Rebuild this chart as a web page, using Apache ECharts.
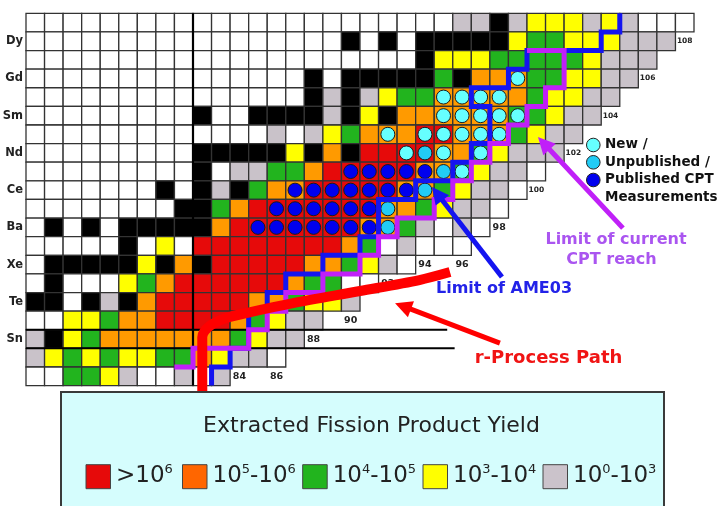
<!DOCTYPE html>
<html><head><meta charset="utf-8">
<script src="https://cdn.jsdelivr.net/npm/echarts/dist/echarts.min.js"></script>
<style>html,body{margin:0;padding:0;background:#fff}#c{width:724px;height:506px}</style>
</head><body><div id="c"></div>
<script>
// ---- data ----
const zTop = 67;      // proton number of the top row
const nFirst = 73;    // neutron number of the first column
// cell codes per row: w none, k stable, r >1e6, o 1e5-1e6, g 1e4-1e5, y 1e3-1e4, s 1e0-1e3
const rowCodes = [
 "wwwwwwwwwwwwwwwwwwwwwwwssksyyysyswww",   // Z=67
 "wwwwwwwwwwwwwwwwwkwkwkkkkkyggyyysss",    // Z=66 Dy
 "wwwwwwwwwwwwwwwwwwwwwkyyygggggysss",     // Z=65
 "wwwwwwwwwwwwwwwkwkkkkkgkoooggyyss",      // Z=64 Gd
 "wwwwwwwwwwwwwwwksksyggooooogyyss",       // Z=63
 "wwwwwwwwwkwwkkkkskykooooooggyss",        // Z=62 Sm
 "wwwwwwwwwwwwwswsygooorrooogyss",         // Z=61
 "wwwwwwwwwkkkkkykokrrrroogysss",          // Z=60 Nd
 "wwwwwwwwwkwssggorrrrroogyssw",           // Z=59
 "wwwwwwwkwkskgoorrrrroogyssw",            // Z=58 Ce
 "wwwwwwwwkkgorrrrrrroogyssw",             // Z=57
 "wkwkwkkkkkorrrrrrroogswsw",              // Z=56 Ba
 "wwwwwkwywrrrrrrrrogwswww",               // Z=55
 "wkkkkkykokrrrrroogysw",                  // Z=54 Xe
 "wkwwwygorrrrrroggww",                    // Z=53
 "kkwkskorrrrroogyys",                     // Z=52 Te
 "wwyygoorrrrogyss",                       // Z=51
 "skygooooooogyss",                        // Z=50 Sn
 "sygygyyggoyssw",                         // Z=49
 "wwggyswwsws"                             // Z=48
];
const elementZ = [66, 64, 62, 60, 58, 56, 54, 52, 50];
const elementNames = ["Dy", "Gd", "Sm", "Nd", "Ce", "Ba", "Xe", "Te", "Sn"];
const neutronLabels = [84, 86, 88, 90, 92, 94, 96, 98, 100, 102, 104, 106, 108];
const neutronLabelZ = [48, 48, 50, 51, 53, 54, 54, 56, 58, 60, 62, 64, 66];
// CPT measurements [N, Z]
const newCPT = [[99,64],[95,63],[96,63],[97,63],[98,63],[95,62],[96,62],[97,62],[98,62],[99,62],
  [92,61],[94,61],[95,61],[96,61],[97,61],[98,61],[93,60],[95,60],[97,60],[96,59]];
const unpubCPT = [[94,60],[95,59],[94,58],[92,57],[92,56]];
const pubCPT = [[90,59],[91,59],[92,59],[93,59],[94,59],
  [87,58],[88,58],[89,58],[90,58],[91,58],[92,58],[93,58],
  [86,57],[87,57],[88,57],[89,57],[90,57],[91,57],
  [85,56],[86,56],[87,56],[88,56],[89,56],[90,56],[91,56]];
// limit lines [N, Z] along cell edges
const ame03Limit = [[104.5,67.5],[104.5,66.5],[103.5,66.5],[103.5,65.5],[99.5,65.5],[99.5,64.5],[98.5,64.5],
  [98.5,63.5],[96.5,63.5],[96.5,62.5],[97.5,62.5],[97.5,60.5],[96.5,60.5],[96.5,59.5],[95.5,59.5],[95.5,58.5],
  [93.5,58.5],[93.5,57.5],[91.5,57.5],[91.5,55.5],[90.5,55.5],[90.5,54.5],[88.5,54.5],[88.5,53.5],[86.5,53.5],
  [86.5,52.5],[85.5,52.5],[85.5,51.5],[84.5,51.5],[84.5,49.5],[83.5,49.5],[83.5,48.5],[82.5,48.5],[82.5,47.5]];
const cptLimit = [[99.5,65.5],[101.5,65.5],[101.5,63.5],[100.5,63.5],[100.5,62.5],[99.5,62.5],[99.5,61.5],
  [98.5,61.5],[98.5,60.5],[97.5,60.5],[97.5,59.5],[96.5,59.5],[96.5,58.5],[95.5,58.5],[95.5,57.5],[94.5,57.5],
  [94.5,56.5],[92.5,56.5],[92.5,55.5],[91.5,55.5],[91.5,54.5],[90.5,54.5],[90.5,53.5],[88.5,53.5],[88.5,52.5],
  [86.5,52.5],[86.5,51.5],[85.5,51.5],[85.5,50.5],[84.5,50.5],[84.5,49.5],[81.5,49.5],[81.5,48.5],[80.5,48.5]];
const rProcessPath = [[82.0,47.2],[82.0,50.1],[82.4,50.7],[83.3,51.13],[84.6,51.45],[86.9,51.93],[90.5,52.58],[93.7,53.17],[95.35,53.6]];
// annotation arrows [N tail, Z tail, N tip, Z tip]
const arrowCPT = [104.67, 55.96, 100.09, 60.85];
const arrowAME = [98.15, 53.33, 94.38, 58.17];
const arrowR = [98.04, 49.78, 92.39, 51.93];
const magicN = 82, magicZ = 50, magicZEnds = [95.2, 95.6];
const legendLabels = ["{a|>10}{s|6}", "{a|10}{s|5}{a|-10}{s|6}", "{a|10}{s|4}{a|-10}{s|5}", "{a|10}{s|3}{a|-10}{s|4}", "{a|10}{s|0}{a|-10}{s|3}"];
const legendTitle = "Extracted Fission Product Yield";
const cptLegend = ["New /", "Unpublished /", "Published CPT", "Measurements"];

// ---- styles ----
const codeKeys = "wkrogys";
const cellColors = ["#ffffff", "#000000", "#e60a0a", "#ff9a00", "#22b41e", "#ffff00", "#c9c2c9"];
const legendColors = ["#e60a0a", "#ff6600", "#22b41e", "#ffff00", "#cbc3cb"];
const legendX = [86, 182.5, 302.7, 423, 543];
const FONT = '"DejaVu Sans", Verdana, sans-serif';

const cellData = [];
rowCodes.forEach((s, r) => {
  for (let c = 0; c < s.length; c++) cellData.push([nFirst + c, zTop - r, codeKeys.indexOf(s[c])]);
});
const elementMap = {};
elementZ.forEach((z, i) => elementMap[z] = elementNames[i]);

function arrowItem(params, api) {
  const p = api.coord([api.value(0), api.value(1)]);
  const q = api.coord([api.value(2), api.value(3)]);
  const col = api.value(4) === 0 ? '#c020f8' : (api.value(4) === 1 ? '#1414f0' : '#ff0000');
  const dx = q[0] - p[0], dy = q[1] - p[1], L = Math.hypot(dx, dy), ux = dx / L, uy = dy / L;
  const hl = 17, hw = 8.5;
  const b = [q[0] - ux * hl, q[1] - uy * hl];
  return {type: 'group', children: [
    {type: 'line', shape: {x1: p[0], y1: p[1], x2: b[0] + ux * 3, y2: b[1] + uy * 3}, style: {stroke: col, lineWidth: 5}},
    {type: 'polygon', shape: {points: [q, [b[0] - uy * hw, b[1] + ux * hw], [b[0] + uy * hw, b[1] - ux * hw]]}, style: {fill: col}}
  ]};
}

const chart = echarts.init(document.getElementById('c'));
const graphics = [
  {type: 'rect', shape: {x: 61, y: 392, width: 603, height: 130}, style: {fill: '#d5fdfd', stroke: '#3a3a3a', lineWidth: 2}, z: 10},
  {type: 'text', x: 371.5, y: 426.5, z: 11, style: {text: legendTitle, font: '22px ' + FONT, fill: '#222',
    align: 'center', verticalAlign: 'middle', textAlign: 'center', textVerticalAlign: 'middle'}}
];
const richLegend = {
  a: {fontSize: 23, fontFamily: FONT, fill: '#222', color: '#222', lineHeight: 26},
  s: {fontSize: 13, fontFamily: FONT, fill: '#222', color: '#222', lineHeight: 13, verticalAlign: 'top'}
};
legendLabels.forEach((t, i) => {
  graphics.push({type: 'rect', shape: {x: legendX[i], y: 464.7, width: 24.5, height: 24}, style: {fill: legendColors[i], stroke: '#444', lineWidth: 1}, z: 11});
  graphics.push({type: 'text', x: legendX[i] + 30, y: 476.5, z: 11, style: {text: t, rich: richLegend, font: '23px ' + FONT, fill: '#222',
    align: 'left', verticalAlign: 'middle', textAlign: 'left', textVerticalAlign: 'middle'}});
});
const cptColors = ['#66ffff', '#22ccf5', '#0000ee'];
const cptY = [145, 162.3, 180];
cptColors.forEach((c, i) => graphics.push({type: 'circle', shape: {cx: 593.3, cy: cptY[i], r: 6.8}, style: {fill: c, stroke: '#222', lineWidth: 1}, z: 11}));
const cptTextY = [144.7, 162, 179.7, 197.3];
cptLegend.forEach((t, i) => graphics.push({type: 'text', x: 605, y: cptTextY[i], z: 11, style: {text: t, font: 'bold 13.5px ' + FONT, fill: '#111',
  align: 'left', verticalAlign: 'middle', textAlign: 'left', textVerticalAlign: 'middle'}}));
const notes = [
  ["Limit of current", 616, 239.5, '#aa55f0', 16],
  ["CPT reach", 611.5, 259.5, '#aa55f0', 16],
  ["Limit of AME03", 504, 288.5, '#2222e8', 16],
  ["r-Process Path", 548.5, 358.5, '#f01414', 18]
];
notes.forEach(n => graphics.push({type: 'text', x: n[1], y: n[2], z: 11, style: {text: n[0], font: 'bold ' + n[4] + 'px ' + FONT, fill: n[3],
  align: 'center', verticalAlign: 'middle', textAlign: 'center', textVerticalAlign: 'middle'}}));

chart.setOption({
  animation: false,
  grid: {left: 26, top: 13.3, width: 668, height: 372.3, containLabel: false, outerBoundsMode: 'none'},
  xAxis: {type: 'value', min: nFirst - 0.5, max: 108.5, show: false},
  yAxis: {type: 'value', min: 47.5, max: 67.5, interval: 0.5,
    axisLine: {show: false}, axisTick: {show: false}, splitLine: {show: false},
    axisLabel: {margin: 3, color: '#222', fontWeight: 'bold', fontSize: 11.5, fontFamily: FONT,
      formatter: v => (Math.abs(v - Math.round(v)) < 1e-6 && elementMap[Math.round(v)]) ? elementMap[Math.round(v)] : ''}},
  graphic: graphics,
  series: [
    {type: 'custom', z: 1, data: cellData, encode: {x: 0, y: 1},
      renderItem: (params, api) => {
        const n = api.value(0), z = api.value(1);
        const a = api.coord([n - 0.5, z + 0.5]), b = api.coord([n + 0.5, z - 0.5]);
        return {type: 'rect', shape: {x: a[0], y: a[1], width: b[0] - a[0], height: b[1] - a[1]},
          style: {fill: cellColors[api.value(2)], stroke: '#333', lineWidth: 1.3}};
      }},
    {type: 'line', z: 2, clip: false, symbol: 'none', silent: true, data: [[magicN - 0.5, 47.5], [magicN - 0.5, 67.5]], lineStyle: {color: '#000', width: 2.2}},
    {type: 'line', z: 2, clip: false, symbol: 'none', silent: true, data: [[nFirst - 0.5, magicZ + 0.5], [magicZEnds[0], magicZ + 0.5]], lineStyle: {color: '#000', width: 2}},
    {type: 'line', z: 2, clip: false, symbol: 'none', silent: true, data: [[nFirst - 0.5, magicZ - 0.5], [magicZEnds[1], magicZ - 0.5]], lineStyle: {color: '#000', width: 2}},
    {type: 'custom', z: 3, data: neutronLabels.map((n, i) => [n, neutronLabelZ[i]]), encode: {x: 0, y: 1},
      renderItem: (params, api) => {
        const p = api.coord([api.value(0), api.value(1)]);
        const t = String(api.value(0));
        return {type: 'text', x: p[0], y: p[1], style: {text: t, font: 'bold ' + (t.length > 2 ? 7.5 : 9.5) + 'px ' + FONT, fill: '#222',
          align: 'center', verticalAlign: 'middle', textAlign: 'center', textVerticalAlign: 'middle'}};
      }},
    {type: 'scatter', z: 3, data: newCPT, symbolSize: 14, itemStyle: {color: '#66ffff', borderColor: '#1a1a1a', borderWidth: 1, opacity: 1}},
    {type: 'scatter', z: 3, data: unpubCPT, symbolSize: 14, itemStyle: {color: '#22ccf5', borderColor: '#1a1a1a', borderWidth: 1, opacity: 1}},
    {type: 'scatter', z: 3, data: pubCPT, symbolSize: 14, itemStyle: {color: '#0000ee', borderColor: '#1a1a1a', borderWidth: 1, opacity: 1}},
    {type: 'line', z: 4, clip: false, symbol: 'none', data: ame03Limit, lineStyle: {color: '#1414f0', width: 5, join: 'miter'}},
    {type: 'line', z: 5, clip: false, symbol: 'none', data: cptLimit, lineStyle: {color: '#c020f8', width: 5, join: 'miter'}},
    {type: 'line', z: 6, clip: false, symbol: 'none', smooth: 0.3, data: rProcessPath, lineStyle: {color: '#ff0000', width: 10}},
    {type: 'custom', z: 7, clip: false, data: [arrowCPT.concat([0]), arrowAME.concat([1]), arrowR.concat([2])], encode: {x: 0, y: 1}, renderItem: arrowItem}
  ]
});
</script>
</body></html>
